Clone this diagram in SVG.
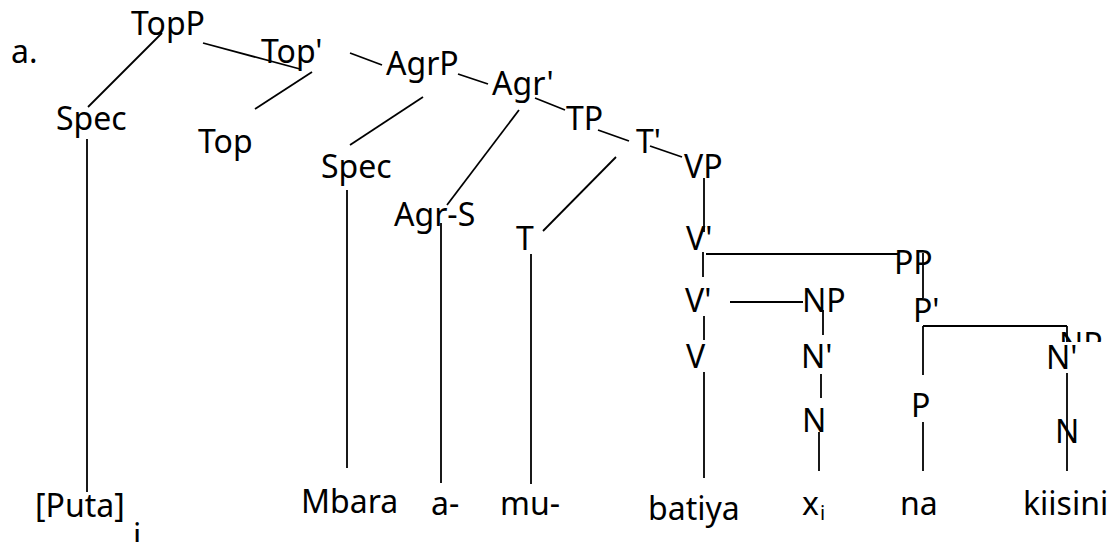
<svg xmlns="http://www.w3.org/2000/svg" width="1112" height="542" viewBox="0 0 1112 542">
<style>
text{font-family:"Noto Sans","Open Sans","DejaVu Sans",sans-serif;font-size:32px;fill:#000}
.sub{font-size:20px}
#connectors line{stroke:#000;stroke-width:1.8;fill:none}
</style>
<defs>
<clipPath id="npclip"><rect x="1040" y="318" width="72" height="24"/></clipPath>
</defs>
<rect width="1112" height="542" fill="#fff"/>
<g id="connectors">
<line x1="162" y1="33" x2="88" y2="107"/>
<line x1="203" y1="43" x2="300" y2="69"/>
<line x1="312" y1="72" x2="255" y2="109"/>
<line x1="350" y1="53" x2="382" y2="65"/>
<line x1="423" y1="97" x2="350" y2="145"/>
<line x1="458" y1="74" x2="488" y2="84"/>
<line x1="519" y1="110" x2="447" y2="205"/>
<line x1="535" y1="98" x2="565" y2="110"/>
<line x1="598" y1="130" x2="629" y2="141"/>
<line x1="616" y1="157" x2="543" y2="231"/>
<line x1="650" y1="146" x2="682" y2="157"/>
<line x1="704" y1="178" x2="704" y2="232"/>
<line x1="703" y1="252" x2="703" y2="277"/>
<line x1="706" y1="254" x2="898" y2="254"/>
<line x1="923" y1="253" x2="923" y2="298"/>
<line x1="730" y1="302" x2="803" y2="302"/>
<line x1="823" y1="310" x2="823" y2="335"/>
<line x1="704" y1="316" x2="704" y2="340"/>
<line x1="923" y1="326" x2="1067" y2="326"/>
<line x1="1067" y1="326" x2="1067" y2="342"/>
<line x1="923" y1="326" x2="923" y2="375"/>
<line x1="821" y1="374" x2="821" y2="398"/>
<line x1="87" y1="139" x2="87" y2="492"/>
<line x1="347" y1="190" x2="347" y2="468"/>
<line x1="441" y1="223" x2="441" y2="483"/>
<line x1="531" y1="254" x2="531" y2="484"/>
<line x1="704" y1="372" x2="704" y2="478"/>
<line x1="819" y1="432" x2="819" y2="471"/>
<line x1="923" y1="422" x2="923" y2="471"/>
<line x1="1067" y1="373" x2="1067" y2="471"/>
</g>
<g id="label-a"><text x="11" y="63">a.</text></g>
<g id="n-TopP"><text x="131" y="35">TopP</text></g>
<g id="n-Top1"><text x="261" y="63">Top'</text></g>
<g id="n-AgrP"><text x="386" y="75">AgrP</text></g>
<g id="n-Agr1"><text x="492" y="95">Agr'</text></g>
<g id="n-TP"><text x="566" y="130">TP</text></g>
<g id="n-T1"><text x="636" y="153">T'</text></g>
<g id="n-VP"><text x="684" y="178">VP</text></g>
<g id="n-Spec1"><text x="56" y="130">Spec</text></g>
<g id="n-Top"><text x="198" y="153">Top</text></g>
<g id="n-Spec2"><text x="321" y="178">Spec</text></g>
<g id="n-AgrS"><text x="394" y="226">Agr-S</text></g>
<g id="n-T"><text x="516" y="250">T</text></g>
<g id="n-V1a"><text x="686" y="250">V'</text></g>
<g id="n-PP"><text x="894" y="274">PP</text></g>
<g id="n-V1b"><text x="685" y="312">V'</text></g>
<g id="n-NP1"><text x="802" y="312">NP</text></g>
<g id="n-P1"><text x="913" y="322">P'</text></g>
<g id="n-NP2"><text x="1059" y="356" clip-path="url(#npclip)">NP</text></g>
<g id="n-V"><text x="686" y="368">V</text></g>
<g id="n-N1a"><text x="801" y="368">N'</text></g>
<g id="n-N1b"><text x="1046" y="369">N'</text></g>
<g id="n-P"><text x="911" y="417">P</text></g>
<g id="n-Na"><text x="802" y="432">N</text></g>
<g id="n-Nb"><text x="1055" y="443">N</text></g>
<g id="w-Puta"><text x="35" y="517">[Puta]</text><text x="133" y="547">i</text></g>
<g id="w-Mbara"><text x="301" y="513">Mbara</text></g>
<g id="w-a"><text x="431" y="515">a-</text></g>
<g id="w-mu"><text x="500" y="515">mu-</text></g>
<g id="w-batiya"><text x="648" y="520">batiya</text></g>
<g id="w-x"><text x="802" y="515">x<tspan class="sub" dx="1" dy="5">i</tspan></text></g>
<g id="w-na"><text x="900" y="515">na</text></g>
<g id="w-kiisini"><text x="1023" y="515">kiisini</text></g>
</svg>
